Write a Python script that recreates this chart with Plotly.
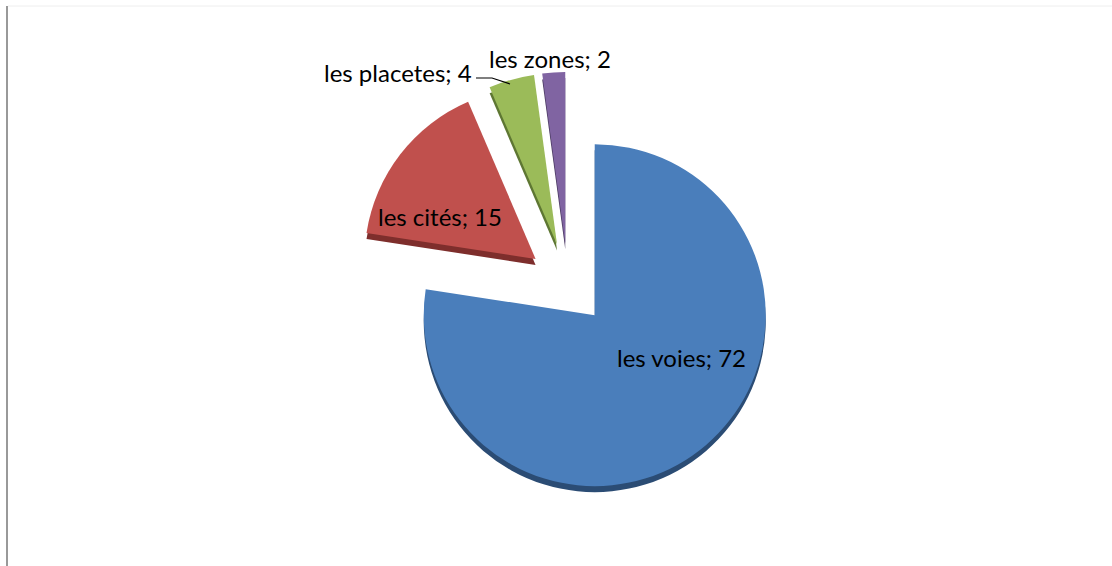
import plotly.graph_objects as go

labels = ["les voies", "les cités", "les placetes", "les zones"]
values = [72, 15, 4, 2]
colors = ["#4A7EBB", "#C0504D", "#9BBB59", "#8064A2"]
side_colors = ["#2B4C74", "#7E2E2C", "#5E7733", "#4D3C64"]

W, H = 1112, 566
cx, cy = 568, 284
r = 171
pull = 0.24
size = 2 * r * (1 + pull)
depth = 6

def px(x):
    return x / W

def py(y):
    return 1 - y / H

def dom(dy):
    return dict(x=[px(cx - size / 2), px(cx + size / 2)],
                y=[py(cy + dy + size / 2), py(cy + dy - size / 2)])

fig = go.Figure()
fig.add_trace(go.Pie(
    labels=labels, values=values, sort=False, direction="clockwise", rotation=0,
    marker=dict(colors=side_colors, line=dict(width=0)),
    pull=[pull] * len(values), textinfo="none", hoverinfo="skip",
    domain=dom(depth), showlegend=False,
))
fig.add_trace(go.Pie(
    labels=labels, values=values, sort=False, direction="clockwise", rotation=0,
    marker=dict(colors=colors, line=dict(width=0)),
    pull=[pull] * len(values), textinfo="none", hoverinfo="label+value",
    domain=dom(0), showlegend=False,
))

label_pos = [(681, 357), (440, 216), (398, 72), (550, 58)]
anns = []
for (lx, ly), lab, v in zip(label_pos, labels, values):
    anns.append(dict(x=px(lx), y=py(ly), xref="paper", yref="paper",
                     text=f"{lab}; {v}", showarrow=False,
                     font=dict(family="Lato", size=24, color="#000000"),
                     xanchor="center", yanchor="middle"))

fig.update_layout(
    width=W, height=H, margin=dict(l=0, r=0, t=0, b=0),
    paper_bgcolor="white", plot_bgcolor="white",
    annotations=anns,
    shapes=[
        dict(type="line", xref="paper", yref="paper", x0=px(7), x1=px(7), y0=py(6), y1=py(566),
             line=dict(color="#999999", width=2)),
        dict(type="line", xref="paper", yref="paper", x0=px(8), x1=1, y0=py(6), y1=py(6),
             line=dict(color="#EEEEEE", width=1)),
        dict(type="path", xref="paper", yref="paper",
             path=f"M {px(476)},{py(78)} L {px(492)},{py(78)} L {px(510)},{py(84)}",
             line=dict(color="#000000", width=1.2)),
    ],
)

fig.write_html("out.html", post_script="document.body.style.margin='0';",
               config={"displayModeBar": False})
